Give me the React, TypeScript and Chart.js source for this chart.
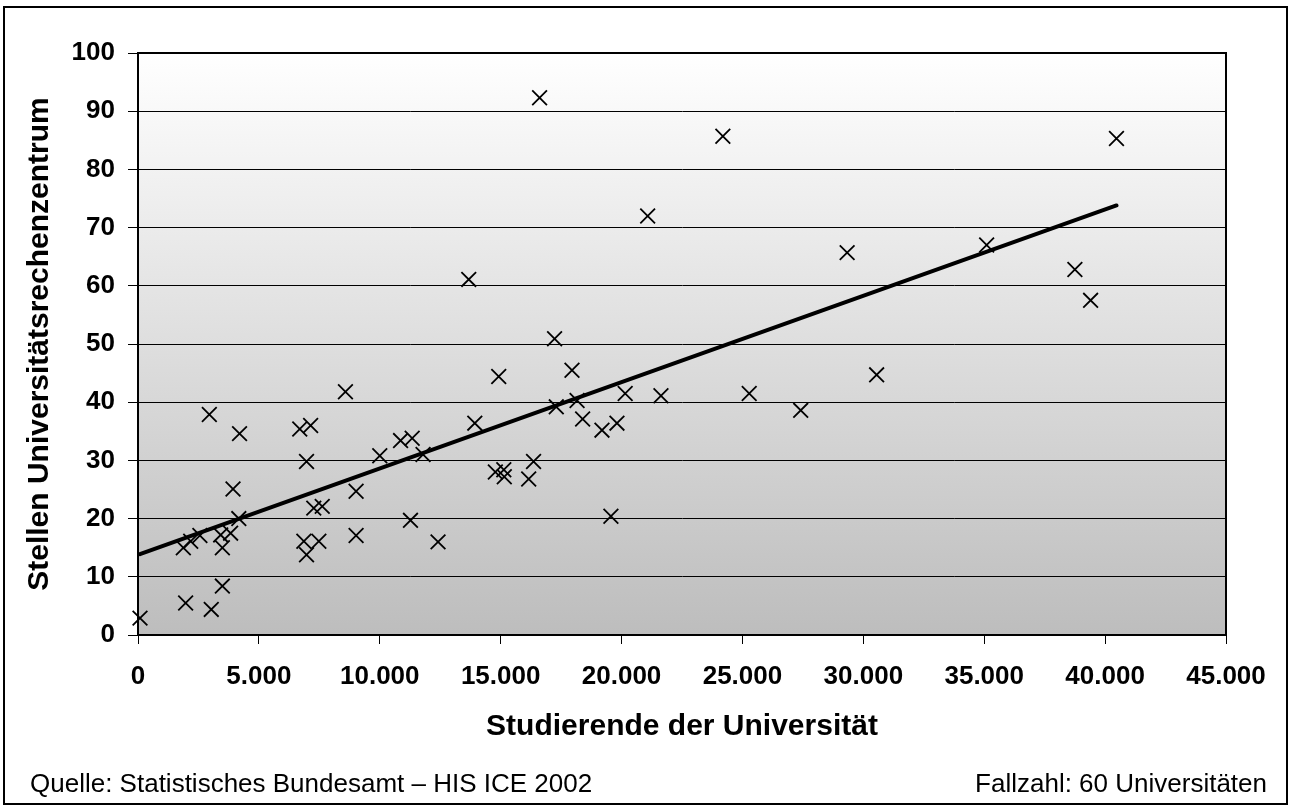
import React, { useEffect, useRef } from 'react';
import { Chart, registerables } from 'chart.js';

Chart.register(...registerables);

// Studierende der Universität (x) and Stellen Universitätsrechenzentrum (y)
const studierende = [
  83, 1970, 3030, 3490, 1875, 2180, 2560, 3490, 3420, 3830,
  4170, 3930, 2950, 4200, 6690, 7140, 6970, 6860, 6970, 7480,
  7270, 7620, 8580, 9020, 9020, 10000, 10860, 11340, 11790, 11270,
  12410, 13930, 14920, 17950, 17300, 18160, 18390, 19190, 19810, 20150,
  14780, 15130, 15150, 16360, 16160, 19560, 16610, 24190, 21080, 13680,
  29330, 17230, 21630, 25280, 27410, 30550, 40470, 35100, 38750, 39400,
];
const stellen = [
  2.9, 5.5, 4.4, 8.4, 15.0, 16.1, 17.1, 15.0, 17.2, 17.5,
  20.0, 25.1, 37.9, 34.6, 35.4, 36.0, 29.8, 16.1, 13.8, 16.1,
  21.8, 22.1, 41.8, 24.7, 17.1, 30.8, 33.4, 33.8, 31.0, 19.7,
  16.0, 36.4, 44.4, 45.5, 39.2, 40.3, 37.1, 35.2, 36.4, 41.5,
  28.0, 28.4, 27.2, 29.8, 26.8, 20.4, 92.3, 85.7, 72.0, 61.1,
  65.7, 50.9, 41.1, 41.5, 38.6, 44.7, 85.3, 67.0, 62.8, 57.5,
];

// Linear trend line end points
const trendX = [80, 40470];
const trendY = [13.9, 73.8];

const xTickLabels = ['0', '5.000', '10.000', '15.000', '20.000', '25.000', '30.000', '35.000', '40.000', '45.000'];
const yTickLabels = ['0', '10', '20', '30', '40', '50', '60', '70', '80', '90', '100'];

const xTitle = 'Studierende der Universität';
const yTitle = 'Stellen Universitätsrechenzentrum';
const sourceNote = 'Quelle: Statistisches Bundesamt – HIS ICE 2002';
const caseNote = 'Fallzahl: 60 Universitäten';

const FONT = "'Liberation Sans', Arial, Helvetica, sans-serif";

const framePlugin = {
  id: 'frameAndNotes',
  beforeDraw(chart: any) {
    const { ctx, chartArea: a } = chart;
    ctx.save();
    ctx.fillStyle = '#ffffff';
    ctx.fillRect(0, 0, chart.width, chart.height);
    const g = ctx.createLinearGradient(0, a.top, 0, a.bottom);
    g.addColorStop(0, '#ffffff');
    g.addColorStop(1, '#bdbdbd');
    ctx.fillStyle = g;
    ctx.fillRect(a.left, a.top, a.right - a.left, a.bottom - a.top);
    ctx.restore();
  },
  afterDraw(chart: any) {
    const { ctx, chartArea: a } = chart;
    ctx.save();
    ctx.strokeStyle = '#000';
    ctx.lineWidth = 2;
    ctx.beginPath();
    ctx.moveTo(a.left, a.top);
    ctx.lineTo(a.right, a.top);
    ctx.lineTo(a.right, a.bottom);
    ctx.stroke();
    ctx.strokeRect(4, 7, 1283, 797);
    ctx.fillStyle = '#000';
    ctx.font = `26px ${FONT}`;
    ctx.textBaseline = 'alphabetic';
    ctx.textAlign = 'left';
    ctx.fillText(sourceNote, 30, 792);
    ctx.textAlign = 'right';
    ctx.fillText(caseNote, 1267, 792);
    ctx.restore();
  },
};

export default function App() {
  const canvasRef = useRef<HTMLCanvasElement | null>(null);

  useEffect(() => {
    const canvas = canvasRef.current;
    if (!canvas) return;
    const points = studierende.map((x, i) => ({ x, y: stellen[i] }));
    const trend = trendX.map((x, i) => ({ x, y: trendY[i] }));

    const chart = new Chart(canvas, {
      type: 'scatter',
      data: {
        datasets: [
          {
            label: 'Trend',
            data: trend,
            showLine: true,
            borderColor: '#000',
            backgroundColor: '#000',
            borderWidth: 4,
            borderCapStyle: 'round',
            pointRadius: 0,
            order: 1,
          } as any,
          {
            label: 'Universitäten',
            data: points,
            pointStyle: 'crossRot',
            pointRadius: 10.4,
            pointBorderWidth: 1.8,
            borderColor: '#000',
            backgroundColor: '#000',
            showLine: false,
            clip: false,
            order: 2,
          } as any,
        ],
      },
      options: {
        responsive: false,
        animation: false,
        events: [],
        layout: { padding: { top: 53, right: 67, left: 0, bottom: 0 } },
        plugins: {
          legend: { display: false },
          tooltip: { enabled: false },
          title: { display: false },
        },
        scales: {
          x: {
            type: 'linear',
            min: 0,
            max: 45000,
            afterFit: (s: any) => {
              s.height = 172;
            },
            ticks: {
              stepSize: 5000,
              autoSkip: false,
              maxRotation: 0,
              padding: 17,
              color: '#000',
              font: { family: FONT, size: 26, weight: 'bold' },
              callback: (v: any) => xTickLabels[Math.round(Number(v) / 5000)],
            },
            grid: { drawOnChartArea: false, drawTicks: true, tickLength: 9, color: '#000' },
            border: { display: true, color: '#000', width: 2 },
            title: {
              display: true,
              text: xTitle,
              color: '#000',
              font: { family: FONT, size: 30, weight: 'bold' },
              padding: { top: 0, bottom: 62 },
            },
          },
          y: {
            type: 'linear',
            min: 0,
            max: 100,
            afterFit: (s: any) => {
              s.width = 138;
            },
            ticks: {
              stepSize: 10,
              padding: 13,
              color: '#000',
              font: { family: FONT, size: 26, weight: 'bold' },
              callback: (v: any) => yTickLabels[Math.round(Number(v) / 10)],
            },
            grid: { color: '#000', lineWidth: 1, drawTicks: true, tickLength: 10 },
            border: { display: true, color: '#000', width: 2 },
            title: {
              display: true,
              text: yTitle,
              color: '#000',
              font: { family: FONT, size: 30, weight: 'bold' },
              padding: { top: 22, bottom: 0 },
            },
          },
        },
      } as any,
      plugins: [framePlugin],
    });

    return () => chart.destroy();
  }, []);

  return (
    <div style={{ position: 'absolute', left: 0, top: 0, width: 1293, height: 807 }}>
      <canvas ref={canvasRef} width={1293} height={807} style={{ display: 'block' }} />
    </div>
  );
}
